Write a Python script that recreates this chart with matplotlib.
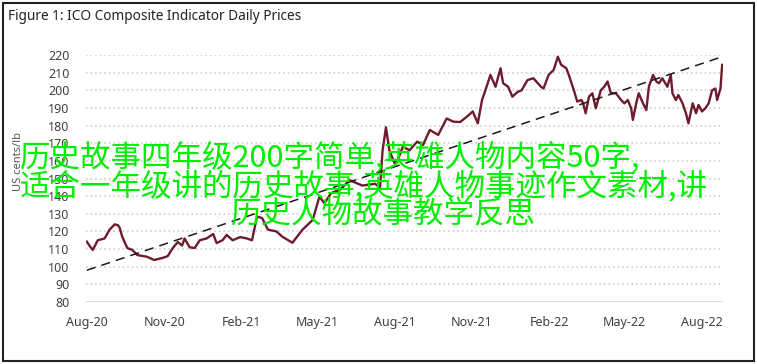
import numpy as np
import pandas as pd
import matplotlib
matplotlib.use("Agg")
import matplotlib.pyplot as plt
import matplotlib.dates as mdates
from matplotlib.patches import Rectangle

# ICO composite indicator
dates = [
    "2020-08-01", "2020-08-04", "2020-08-08", "2020-08-14", "2020-08-22", "2020-08-28",
    "2020-09-03", "2020-09-07", "2020-09-09", "2020-09-12", "2020-09-18", "2020-09-24",
    "2020-09-30", "2020-10-11", "2020-10-20", "2020-10-30", "2020-11-05", "2020-11-11",
    "2020-11-17", "2020-11-22", "2020-11-25", "2020-12-01", "2020-12-07", "2020-12-13",
    "2020-12-21", "2020-12-29", "2021-01-02", "2021-01-09", "2021-01-14", "2021-01-21",
    "2021-01-30", "2021-02-07", "2021-02-13", "2021-02-19", "2021-02-25", "2021-03-04",
    "2021-03-14", "2021-03-21", "2021-04-02", "2021-04-14", "2021-04-26", "2021-05-04",
    "2021-05-10", "2021-05-18", "2021-05-28", "2021-06-09", "2021-06-24", "2021-07-09",
    "2021-07-15", "2021-07-18", "2021-07-22", "2021-07-26", "2021-08-01", "2021-08-05",
    "2021-08-11", "2021-08-19", "2021-08-28", "2021-09-04", "2021-09-12", "2021-09-22",
    "2021-10-02", "2021-10-10", "2021-10-18", "2021-10-26", "2021-11-02", "2021-11-08",
    "2021-11-13", "2021-11-17", "2021-11-23", "2021-11-29", "2021-12-05", "2021-12-08",
    "2021-12-14", "2021-12-19", "2021-12-25", "2021-12-30", "2022-01-06", "2022-01-13",
    "2022-01-22", "2022-01-25", "2022-01-31", "2022-02-06", "2022-02-11", "2022-02-15",
    "2022-02-21", "2022-02-24", "2022-03-02", "2022-03-06", "2022-03-11", "2022-03-13",
    "2022-03-16", "2022-03-20", "2022-03-24", "2022-03-28", "2022-04-03", "2022-04-07",
    "2022-04-11", "2022-04-15", "2022-04-21", "2022-04-27", "2022-05-01", "2022-05-05",
    "2022-05-09", "2022-05-11", "2022-05-15", "2022-05-18", "2022-05-23", "2022-05-27",
    "2022-05-30", "2022-06-04", "2022-06-08", "2022-06-11", "2022-06-15", "2022-06-21",
    "2022-06-25", "2022-06-27", "2022-07-01", "2022-07-04", "2022-07-09", "2022-07-13",
    "2022-07-16", "2022-07-21", "2022-07-25", "2022-07-28", "2022-08-01", "2022-08-05",
    "2022-08-09", "2022-08-13", "2022-08-17", "2022-08-19", "2022-08-23", "2022-08-25",
]
prices = [
    114.2, 112.0, 109.5, 115.0, 116.0, 121.0,
    124.0, 123.5, 122.0, 117.0, 110.6, 109.5,
    106.6, 105.7, 103.8, 105.0, 106.0, 110.6,
    114.0, 112.0, 116.0, 111.0, 110.6, 115.0,
    116.0, 118.5, 113.4, 115.0, 118.0, 115.0,
    116.8, 116.0, 115.0, 128.4, 127.6, 121.0,
    120.0, 117.0, 113.6, 121.0, 126.5, 139.7,
    136.0, 141.8, 143.5, 149.0, 146.0, 147.0,
    145.0, 166.0, 179.0, 166.0, 158.8, 160.5,
    168.0, 166.0, 170.9, 169.0, 177.5, 174.7,
    184.0, 182.2, 182.0, 185.0, 188.0, 181.3,
    194.5, 200.0, 208.7, 202.0, 212.5, 204.0,
    202.0, 196.4, 199.0, 200.0, 205.8, 206.8,
    202.0, 201.0, 208.7, 211.5, 219.0, 214.4,
    212.5, 208.7, 200.0, 193.6, 194.5, 192.6,
    187.0, 196.4, 198.3, 189.8, 200.0, 202.0,
    205.0, 198.3, 198.3, 194.5, 192.6, 194.5,
    189.8, 183.2, 192.6, 198.3, 192.6, 188.8,
    202.0, 208.7, 204.9, 204.0, 206.8, 202.0,
    208.7, 198.3, 194.5, 197.3, 192.6, 187.0,
    181.3, 192.6, 187.0, 191.7, 188.0, 189.8,
    192.6, 200.0, 201.0, 194.5, 201.0, 214.4,
]
trend_dates = ["2020-08-01", "2022-08-25"]
trend_vals = [98.0, 219.0]

tick_dates = ["2020-08-01", "2020-11-01", "2021-02-01", "2021-05-01", "2021-08-01",
              "2021-11-01", "2022-02-01", "2022-05-01", "2022-08-01"]
tick_labels = ["Aug-20", "Nov-20", "Feb-21", "May-21", "Aug-21",
               "Nov-21", "Feb-22", "May-22", "Aug-22"]
y_ticks = list(range(80, 230, 10))

watermark = ["历史故事四年级200字简单,英雄人物内容50字,",
             "适合一年级讲的历史故事,英雄人物事迹作文素材,讲",
             "历史人物故事教学反思"]

plt.rcParams['font.family'] = ['Noto Sans', 'DejaVu Sans']

fig = plt.figure(figsize=(7.57, 3.64), dpi=100)
ax = fig.add_axes([86/757, 1 - 302/364, (723 - 86)/757, (302 - 55)/364])

x = pd.to_datetime(dates)
ax.plot(x, prices, color='#6e1a2f', lw=1.7, zorder=3)
ax.plot(pd.to_datetime(trend_dates), trend_vals, color='#1a1a1a', lw=1.1,
        dashes=(6, 4), zorder=4)

ax.set_ylim(80, 220)
ax.set_xlim(pd.Timestamp("2020-07-31"), pd.Timestamp("2022-08-26"))
ax.set_yticks(y_ticks)
ax.set_xticks(pd.to_datetime(tick_dates))
ax.set_xticklabels(tick_labels)
for v in y_ticks[1:]:
    ax.axhline(v, color='#c8c8c8', lw=1.1, ls=(0, (1, 2)), zorder=1)
ax.axhline(80, color='#d9d9d9', lw=2, zorder=2)

for s in ax.spines.values():
    s.set_visible(False)
ax.tick_params(axis='both', length=0, labelsize=9, colors='#404040')
ax.tick_params(axis='y', pad=12)
ax.tick_params(axis='x', pad=10)
ax.set_ylabel("US cents/lb", fontsize=8, color='#555555', labelpad=4)
ax.yaxis.set_label_coords(-0.097, 0.57)

fig.text(8/757, 1 - 17/364, "Figure 1: ICO Composite Indicator Daily Prices",
         fontsize=9.8, color='#222222', va='center', ha='left')

# black frame round the whole picture
fig.patches.append(Rectangle((0.004, 0.008), 0.992, 0.985, transform=fig.transFigure,
                             fill=False, edgecolor='#222222', lw=1.5))

# green overlay text
wm_family = ['Noto Sans CJK SC', 'DejaVu Sans']
fig.text(20/757, 1 - 157/364, watermark[0], fontsize=22, color='#00ee00',
         family=wm_family, weight='medium', ha='left', va='center', zorder=10)
fig.text(20/757, 1 - 186/364, watermark[1], fontsize=22, color='#00ee00',
         family=wm_family, weight='medium', ha='left', va='center', zorder=10)
fig.text(383/757, 1 - 215/364, watermark[2], fontsize=22, color='#00ee00',
         family=wm_family, weight='medium', ha='center', va='center', zorder=10)

plt.savefig('out.png', dpi=100)
